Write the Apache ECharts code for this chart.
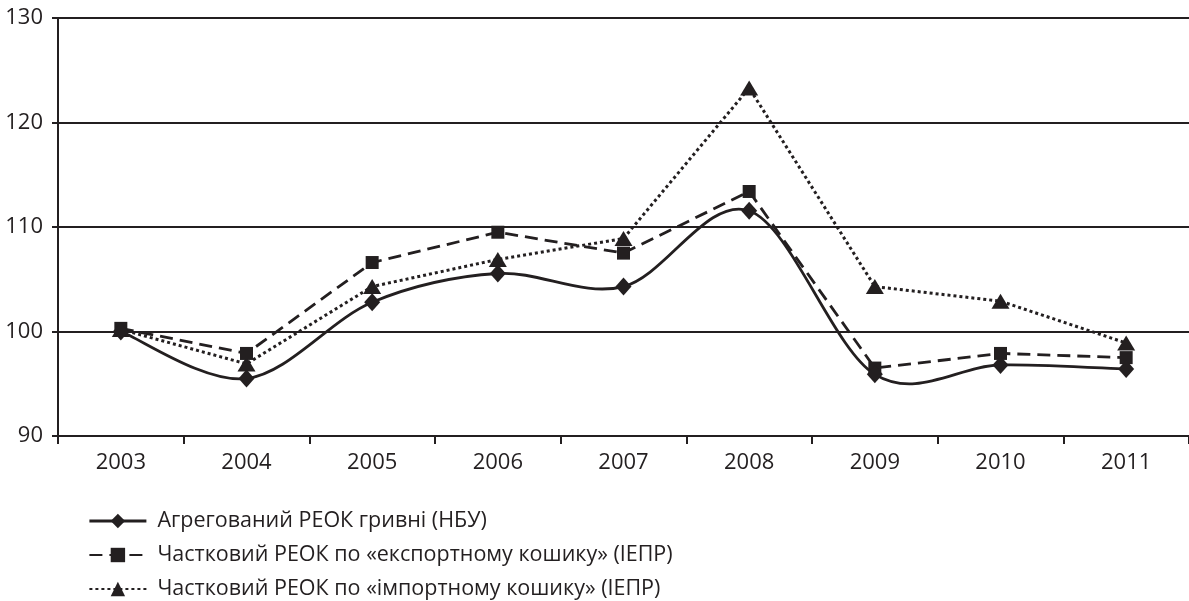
<!DOCTYPE html>
<html>
<head>
<meta charset="utf-8">
<script src="https://cdn.jsdelivr.net/npm/echarts@6/dist/echarts.min.js"></script>
<style>
html,body{margin:0;padding:0;background:#fff;}
#chart{width:1189px;height:601px;}
</style>
</head>
<body>
<div id="chart"></div>
<script>
var years = ['2003','2004','2005','2006','2007','2008','2009','2010','2011'];
var seriesNames = [
  'Агрегований РЕОК гривні (НБУ)',
  'Частковий РЕОК по «експортному кошику» (ІЕПР)',
  'Частковий РЕОК по «імпортному кошику» (ІЕПР)'
];
var aggregated = [100.0, 95.5, 102.8, 105.55, 104.3, 111.55, 95.9, 96.8, 96.4];
var exportBasket = [100.3, 97.9, 106.6, 109.5, 107.5, 113.4, 96.5, 97.9, 97.5];
var importBasket = [100.2, 96.9, 104.3, 106.9, 108.9, 123.3, 104.3, 102.9, 98.9];
var yTicks = [90, 100, 110, 120, 130];

var ink = '#231f20';
var font = 'Open Sans';
var chart = echarts.init(document.getElementById('chart'), null, {renderer: 'canvas'});

// Smoothed (spline) line for the aggregated series, drawn through the axes' coordinate mapping.
function splineItem(params, api) {
  var i = params.dataIndex;
  if (i >= aggregated.length - 1) return null;
  function pt(k) {
    k = Math.max(0, Math.min(aggregated.length - 1, k));
    return api.coord([k, aggregated[k]]);
  }
  var p0 = pt(i - 1), p1 = pt(i), p2 = pt(i + 1), p3 = pt(i + 2);
  var t = 1 / 6;
  var c1 = [p1[0] + (p2[0] - p0[0]) * t, p1[1] + (p2[1] - p0[1]) * t];
  var c2 = [p2[0] - (p3[0] - p1[0]) * t, p2[1] - (p3[1] - p1[1]) * t];
  return {
    type: 'bezierCurve',
    shape: {x1: p1[0], y1: p1[1], x2: p2[0], y2: p2[1], cpx1: c1[0], cpy1: c1[1], cpx2: c2[0], cpy2: c2[1]},
    style: {stroke: ink, lineWidth: 2.8, fill: null}
  };
}

chart.setOption({
  animation: false,
  backgroundColor: '#fff',
  grid: {left: 58, top: 18, width: 1139, height: 418, containLabel: false},
  legend: {
    orient: 'vertical',
    left: 88,
    top: 510,
    height: 120,
    padding: 0,
    itemWidth: 57,
    itemHeight: 18,
    itemGap: 12,
    textStyle: {color: ink, fontFamily: font, fontSize: 21.5, lineHeight: 14, padding: [0, 0, 0, 6]},
    data: [
      {name: seriesNames[0], lineStyle: {color: ink, width: 2.8, opacity: 1, type: 'solid'}},
      {name: seriesNames[1]},
      {name: seriesNames[2]}
    ]
  },
  xAxis: {
    type: 'category',
    data: years,
    boundaryGap: true,
    axisLine: {lineStyle: {color: ink, width: 2}},
    axisTick: {show: true, length: 8, lineStyle: {color: ink, width: 2}},
    axisLabel: {color: ink, fontFamily: font, fontSize: 22, margin: 16}
  },
  yAxis: {
    type: 'value',
    min: yTicks[0],
    max: yTicks[yTicks.length - 1],
    interval: 10,
    axisLine: {show: true, lineStyle: {color: ink, width: 2}},
    axisTick: {show: true, length: 6, lineStyle: {color: ink, width: 2}},
    axisLabel: {color: ink, fontFamily: font, fontSize: 22, margin: 15},
    splitLine: {show: true, lineStyle: {color: ink, width: 2}}
  },
  series: [
    {
      name: 'spline', type: 'custom', renderItem: splineItem, data: aggregated.map(function (v, k) { return [k, v]; }),
      encode: {x: 0, y: 1}, z: 5, silent: true
    },
    {
      name: seriesNames[0], type: 'line', data: aggregated, smooth: false,
      symbol: 'diamond', symbolSize: [16, 18],
      itemStyle: {color: ink}, lineStyle: {color: ink, width: 2.8, opacity: 0}, z: 6
    },
    {
      name: seriesNames[1], type: 'line', data: exportBasket, smooth: false,
      symbol: 'rect', symbolSize: 13,
      itemStyle: {color: ink}, lineStyle: {color: ink, width: 2.8, type: [13, 7]}, z: 4
    },
    {
      name: seriesNames[2], type: 'line', data: importBasket, smooth: false,
      symbol: 'triangle', symbolSize: [18, 15],
      itemStyle: {color: ink}, lineStyle: {color: ink, width: 3, type: [3, 3]}, z: 3
    }
  ]
});
</script>
</body>
</html>
